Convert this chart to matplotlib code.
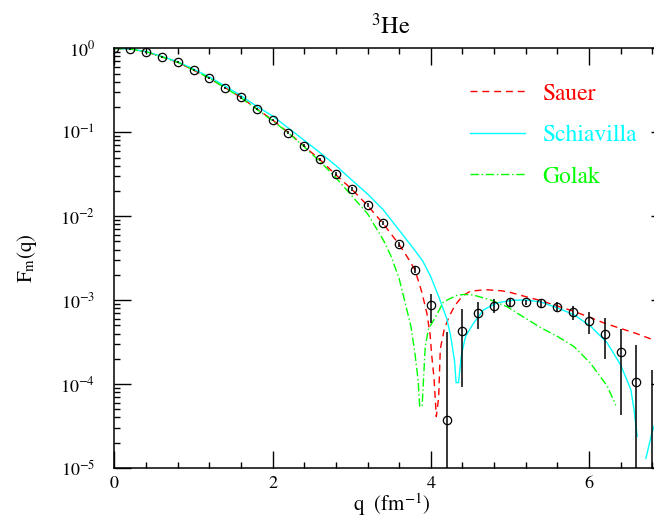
import matplotlib.pyplot as plt
import numpy as np
from matplotlib.ticker import MultipleLocator, LogLocator, NullFormatter

plt.rcParams['font.family'] = 'STIXGeneral'
plt.rcParams['mathtext.fontset'] = 'stix'

# measured magnetic form factor of 3He
q_data = [0.0, 0.2, 0.4, 0.6, 0.8, 1.0, 1.2, 1.4, 1.6, 1.8, 2.0, 2.2, 2.4, 2.6,
          2.8, 3.0, 3.2, 3.4, 3.6, 3.8, 4.0, 4.2, 4.4, 4.6, 4.8, 5.0, 5.2, 5.4,
          5.6, 5.8, 6.0, 6.2, 6.4, 6.6, 6.8]
f_data = [1.0, 0.98, 0.91, 0.79, 0.68, 0.55, 0.44, 0.34, 0.26, 0.19, 0.14, 0.099,
          0.069, 0.048, 0.032, 0.021, 0.0135, 0.0083, 0.0046, 0.0023, 8.8e-4,
          3.7e-5, 4.3e-4, 7.0e-4, 8.5e-4, 9.5e-4, 9.5e-4, 9.2e-4, 8.3e-4, 7.2e-4,
          5.6e-4, 4.0e-4, 2.4e-4, 1.06e-4, 6e-6]
f_hi = [1.02, 1.0, 0.93, 0.81, 0.70, 0.565, 0.452, 0.35, 0.268, 0.196, 0.145, 0.103,
        0.072, 0.050, 0.0335, 0.022, 0.0142, 0.0088, 0.0049, 0.0025, 1.18e-3,
        4.16e-4, 7.8e-4, 9.5e-4, 1.03e-3, 1.03e-3, 1.01e-3, 1.03e-3, 9.5e-4, 8.5e-4,
        7.3e-4, 6.1e-4, 4.5e-4, 2.9e-4, 1.48e-4]
f_lo = [0.98, 0.96, 0.89, 0.77, 0.66, 0.535, 0.428, 0.33, 0.252, 0.184, 0.135, 0.095,
        0.066, 0.046, 0.0305, 0.020, 0.0128, 0.0078, 0.0043, 0.0021, 5.3e-4,
        1e-7, 9.2e-5, 4.5e-4, 7.0e-4, 8.3e-4, 8.8e-4, 8.3e-4, 7.2e-4, 5.8e-4,
        4.0e-4, 2.0e-4, 4.3e-5, 1e-7, 1e-7]

# theory curves
q_sauer = [0.0, 0.2, 0.4, 0.6, 0.8, 1.0, 1.2, 1.4, 1.6, 1.8, 2.0, 2.2, 2.4, 2.6,
           2.8, 3.0, 3.2, 3.4, 3.6, 3.7, 3.8, 3.89, 3.95, 3.99, 4.01, 4.04, 4.07,
           4.10, 4.12, 4.17, 4.23, 4.3, 4.4, 4.5, 4.7, 4.9, 5.0, 5.2, 5.4, 5.6,
           5.8, 6.0, 6.2, 6.4, 6.6, 6.8, 7.0]
f_sauer = [1.0, 0.98, 0.91, 0.79, 0.68, 0.55, 0.44, 0.34, 0.26, 0.19, 0.14, 0.099,
           0.068, 0.047, 0.031, 0.021, 0.0134, 0.0081, 0.0046, 0.0033, 0.0023,
           1.21e-3, 7.0e-4, 4.0e-4, 2.3e-4, 1.2e-4, 4.1e-5, 7.0e-5, 2.6e-4, 4.5e-4,
           6.3e-4, 8.5e-4, 1.12e-3, 1.28e-3, 1.33e-3, 1.29e-3, 1.24e-3, 1.10e-3,
           9.8e-4, 8.5e-4, 7.4e-4, 6.3e-4, 5.3e-4, 4.6e-4, 4.0e-4, 3.4e-4, 2.9e-4]

q_schiav = [0.0, 0.2, 0.4, 0.6, 0.8, 1.0, 1.2, 1.4, 1.6, 1.8, 2.0, 2.2, 2.4, 2.6,
            2.8, 3.0, 3.2, 3.4, 3.6, 3.8, 3.9, 4.0, 4.1, 4.2, 4.25, 4.3, 4.32, 4.35,
            4.39, 4.44, 4.54, 4.67, 4.84, 5.05, 5.22, 5.39, 5.6, 5.81, 6.02, 6.23,
            6.4, 6.53, 6.57, 6.61, 6.66, 6.72, 6.8, 6.9]
f_schiav = [1.0, 0.98, 0.915, 0.80, 0.69, 0.565, 0.455, 0.355, 0.272, 0.203, 0.156,
            0.112, 0.080, 0.057, 0.040, 0.027, 0.0184, 0.0119, 0.0068, 0.0039,
            2.9e-3, 1.9e-3, 1.1e-3, 6.1e-4, 3.8e-4, 1.9e-4, 1.04e-4, 1.04e-4,
            2.3e-4, 3.7e-4, 5.3e-4, 7.7e-4, 9.3e-4, 1.0e-3, 1.0e-3, 9.5e-4, 8.1e-4,
            6.7e-4, 4.9e-4, 3.1e-4, 1.7e-4, 8.6e-5, 5.0e-5, 2.4e-5, np.nan,
            1.3e-5, 2.7e-5, 5.0e-5]

q_golak = [0.0, 0.2, 0.4, 0.6, 0.8, 1.0, 1.2, 1.4, 1.6, 1.8, 2.0, 2.2, 2.4, 2.6,
           2.8, 3.0, 3.2, 3.4, 3.5, 3.6, 3.7, 3.75, 3.8, 3.84, 3.86, 3.89, 3.93,
           3.97, 4.06, 4.16, 4.25, 4.33, 4.42, 4.54, 4.76, 4.97, 5.17, 5.39, 5.6,
           5.81, 6.02, 6.23, 6.34]
f_golak = [1.0, 0.98, 0.91, 0.79, 0.68, 0.55, 0.44, 0.338, 0.258, 0.187, 0.137,
           0.098, 0.067, 0.0446, 0.0288, 0.0175, 0.0107, 0.0052, 3.3e-3, 1.8e-3,
           7.5e-4, 4.8e-4, 2.3e-4, 1.1e-4, 5.4e-5, 5.4e-5, 2.8e-4, 4.5e-4, 6.3e-4,
           9.5e-4, 1.05e-3, 1.14e-3, 1.17e-3, 1.15e-3, 1.0e-3, 8.3e-4, 6.3e-4,
           4.7e-4, 3.7e-4, 2.8e-4, 1.77e-4, 9.5e-5, 5.6e-5]

fig = plt.figure(figsize=(6.54, 5.18), dpi=100)
# right edge of the frame sits past the page, so q > 6.83 is cut off
ax = fig.add_axes([114.5 / 654, 1 - 468 / 518, (668 - 114.5) / 654, (468 - 48.3) / 518])

ax.plot(q_sauer, f_sauer, color='red', lw=1.0, dashes=(5, 3.5), label='Sauer')
ax.plot(q_schiav, f_schiav, color='cyan', lw=1.0, label='Schiavilla')
ax.plot(q_golak, f_golak, color='#00ff00', lw=1.0, dashes=(6, 2, 1, 2), label='Golak')

f_data = np.array(f_data)
yerr = [f_data - np.array(f_lo), np.array(f_hi) - f_data]
ax.errorbar(q_data, f_data, yerr=yerr, fmt='o', ms=6, mfc='none', mec='black',
            mew=0.9, ecolor='black', elinewidth=1.1, capsize=0, zorder=5)

ax.set_yscale('log')
ax.set_xlim(0, 7)
ax.set_ylim(1e-5, 1)

ax.xaxis.set_major_locator(MultipleLocator(2))
ax.xaxis.set_minor_locator(MultipleLocator(0.4))
ax.yaxis.set_major_locator(LogLocator(base=10, numticks=10))
ax.yaxis.set_minor_locator(LogLocator(base=10, subs=np.arange(2, 10), numticks=10))
ax.yaxis.set_minor_formatter(NullFormatter())
ax.tick_params(which='both', direction='in', top=True, right=True, width=1.0,
               labelsize=13)
ax.tick_params(which='major', length=12)
ax.tick_params(which='minor', length=4.3)
ax.tick_params(axis='y', which='major', pad=14)
ax.tick_params(axis='x', which='major', pad=6)
for s in ax.spines.values():
    s.set_linewidth(1.1)

ax.set_title(r'$^3$He', fontsize=17.5, pad=10)
ax.set_xlabel(r'q  (fm$^{-1}$)', fontsize=15, labelpad=-1)
ax.set_ylabel(r'F$_\mathrm{m}$(q)', fontsize=15, labelpad=15)

ax.legend(loc='upper left', bbox_to_anchor=(470 / 654, 1 - 83 / 518),
          bbox_transform=fig.transFigure, frameon=False, fontsize=17,
          labelcolor='linecolor', handlelength=2.35, handletextpad=0.7,
          labelspacing=0.85, borderpad=0, borderaxespad=0)

fig.savefig('out.png', dpi=100)
